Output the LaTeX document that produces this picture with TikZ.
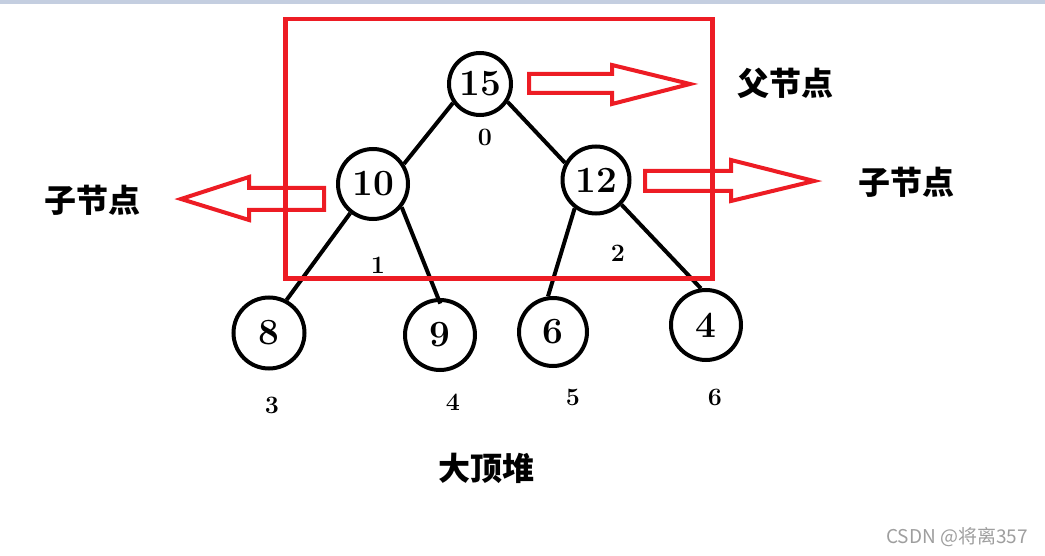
\documentclass[tikz,border=0pt]{standalone}
\usepackage{fontspec}
\newfontfamily\cjk{Noto Sans CJK SC}
\usetikzlibrary{positioning}
\definecolor{paintred}{RGB}{237,28,36}
\definecolor{barblue}{RGB}{196,206,224}

\begin{document}
\begin{tikzpicture}[x=1pt, y=-1pt,
  heapnode/.style={draw=black, circle, line width=4pt, inner sep=0pt,
                   minimum size=68pt, font=\fontsize{37}{37}\selectfont\bfseries},
  idx/.style={inner sep=0pt, font=\fontsize{25}{25}\selectfont\bfseries},
  edgeline/.style={line width=4pt, black},
  redbox/.style={draw=paintred, line width=4.5pt},
  blockarrow/.style={draw=paintred, line width=4pt, line join=miter},
  cjklabel/.style={inner sep=0pt, font=\cjk\fontsize{32}{32}\selectfont\bfseries},
  watermark/.style={inner sep=0pt, text=black!38, font=\cjk\fontsize{19}{19}\selectfont}
]
\useasboundingbox (0,0) rectangle (1045,556);
\fill[barblue] (0,0) rectangle (1045,4);

% heap
\node[heapnode, minimum size=62pt] (n15) at (480,84) {15};
\node[heapnode, minimum size=70pt] (n10) at (373,184) {10};
\node[heapnode, minimum size=67pt] (n12) at (596,180) {12};
\node[heapnode, minimum size=71pt] (n8) at (269,333) {8};
\node[heapnode, minimum size=70pt] (n9) at (440,335) {9};
\node[heapnode, minimum size=68pt] (n6) at (553,332) {6};
\node[heapnode, minimum size=70pt] (n4) at (706,325) {4};

\draw[edgeline] (n15.-145) -- (n10.33);
\draw[edgeline] (n15.-33) -- (n12.151);
\draw[edgeline] (n10.-128) -- (n8.62);
\draw[edgeline, shorten >=-6pt] (n10.-39) -- (n9.93);
\draw[edgeline] (n12.-127) -- (n6.98);
\draw[edgeline] (n12.-44) -- (n4.98);

% array indices
\node[idx] (i0) at (485,137) {0};
\node[idx] (i1) at (378,265) {1};
\node[idx] (i2) at (618,253) {2};
\node[idx] (i3) at (272,405) {3};
\node[idx] (i4) at (453,402) {4};
\node[idx] (i5) at (573,397) {5};
\node[idx] (i6) at (715,397) {6};

% parent frame and pointers
\draw[redbox] (285.5,19) rectangle (712.5,278.5);
\draw[blockarrow] (529,74) -- (612,74) -- (612,65) -- (690,84)
  -- (612,104) -- (612,93) -- (529,93) -- cycle;
\draw[blockarrow] (324,188) -- (249,188) -- (249,177) -- (181,199)
  -- (249,220) -- (249,210) -- (324,210) -- cycle;
\draw[blockarrow] (645,171) -- (731,171) -- (731,160) -- (814,181)
  -- (731,201) -- (731,191) -- (645,191) -- cycle;

\node[cjklabel] (parent) at (785,83) {父节点};
\node[cjklabel] (childl) at (93,200) {子节点};
\node[cjklabel] (childr) at (906,182) {子节点};
\node[cjklabel] (title) at (486,468) {大顶堆};
\node[watermark] (source) at (957,537) {CSDN @将离357};
\end{tikzpicture}
\end{document}
